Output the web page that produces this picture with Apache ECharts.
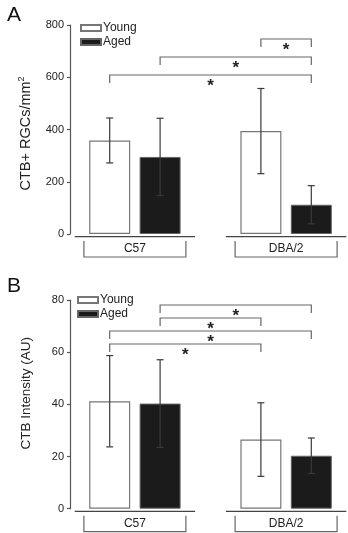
<!DOCTYPE html>
<html>
<head>
<meta charset="utf-8">
<script src="https://cdn.jsdelivr.net/npm/echarts@6/dist/echarts.min.js"></script>
<style>
  html, body { margin: 0; padding: 0; background: #fff; }
  #chart { width: 348px; height: 533px; }
</style>
</head>
<body>
<div id="chart"></div>
<script>
// groups and values
const groups = ['C57', 'DBA/2']
const seriesNames = ['Young', 'Aged']

// panel A: CTB+ RGCs/mm2
const countYoung = [358, 394]
const countYoungSd = [86, 163]
const countAged = [295, 112]
const countAgedSd = [148, 73]
const countTicks = [0, 200, 400, 600, 800]

// panel B: CTB intensity
const intYoung = [41.2, 26.5]
const intYoungSd = [17.5, 14.1]
const intAged = [40.3, 20.3]
const intAgedSd = [16.8, 6.8]
const intTicks = [0, 20, 40, 60, 80]

// significance pairs, bar index 0..3 = C57 young, C57 aged, DBA young, DBA aged (top to bottom)
const sigA = [[2, 3], [1, 3], [0, 3]]
const sigB = [[1, 3], [1, 2], [0, 3], [0, 2]]

const FONT = '"Liberation Sans", Arial, sans-serif'
const LINE = '#666'

// each group takes 2 slots plus a blank slot between groups
const slots = ['', '', '', '', '']
const barSlot = b => (b < 2 ? b : b + 1)
function slotData(vals, off) {
  const d = slots.map(() => '-')
  vals.forEach((v, g) => { d[g * 3 + off] = v })
  return d
}

const chart = echarts.init(document.getElementById('chart'))

function panelSeries(idx, young, youngSd, aged, agedSd, sig, sigTop, sigStep) {
  const ax = { xAxisIndex: idx, yAxisIndex: idx }
  const errData = []
  groups.forEach((g, i) => {
    errData.push([i * 3, young[i], youngSd[i]])
    errData.push([i * 3 + 1, aged[i], agedSd[i]])
  })
  return [
    {
      name: 'Young', type: 'bar', ...ax,
      data: slotData(young, 0),
      barWidth: 41, barGap: '-100%',
      itemStyle: { color: '#fff', borderColor: '#777', borderWidth: 1.2 }
    },
    {
      name: 'Aged', type: 'bar', ...ax,
      data: slotData(aged, 1),
      barWidth: 41, barGap: '-100%',
      itemStyle: { color: '#1b1b1b', borderColor: '#666', borderWidth: 1 }
    },
    {
      // error bars
      type: 'custom', ...ax, z: 5,
      data: errData,
      renderItem(params, api) {
        const x = api.coord([api.value(0), 0])[0]
        const m = api.value(1), s = api.value(2)
        const top = api.coord([api.value(0), m + s])[1]
        const bot = api.coord([api.value(0), m - s])[1]
        const st = { stroke: '#3a3a3a', lineWidth: 1.2 }
        return {
          type: 'group',
          children: [
            { type: 'line', shape: { x1: x, y1: top, x2: x, y2: bot }, style: st },
            { type: 'line', shape: { x1: x - 3.5, y1: top, x2: x + 3.5, y2: top }, style: st },
            { type: 'line', shape: { x1: x - 3.5, y1: bot, x2: x + 3.5, y2: bot }, style: st }
          ]
        }
      }
    },
    {
      // significance brackets
      type: 'custom', ...ax, clip: false, silent: true,
      data: sig.map((p, i) => [barSlot(p[0]), barSlot(p[1]), i]),
      renderItem(params, api) {
        const x0 = api.coord([api.value(0), 0])[0]
        const x1 = api.coord([api.value(1), 0])[0]
        const y = params.coordSys.y + sigTop + api.value(2) * sigStep
        return {
          type: 'group',
          children: [
            {
              type: 'polyline',
              shape: { points: [[x0, y + 8], [x0, y], [x1, y], [x1, y + 8]] },
              style: { stroke: LINE, lineWidth: 1.2, fill: null }
            },
            {
              type: 'text',
              style: {
                x: (x0 + x1) / 2, y: y + 2.5, text: '*',
                font: 'bold 17px ' + FONT, fill: '#222',
                textAlign: 'center', textVerticalAlign: 'top'
              }
            }
          ]
        }
      }
    },
    {
      // broken x axis segments and group brackets with labels
      type: 'custom', ...ax, clip: false, silent: true,
      data: groups.map((g, i) => [i * 3, i * 3 + 1]),
      renderItem(params, api) {
        const [xa, yb] = api.coord([api.value(0), 0])
        const xb = api.coord([api.value(1), 0])[0]
        const cx = (xa + xb) / 2
        return {
          type: 'group',
          children: [
            { type: 'line', shape: { x1: xa - 35, y1: yb + 2.7, x2: xb + 35, y2: yb + 2.7 }, style: { stroke: '#444', lineWidth: 1.2 } },
            {
              type: 'polyline',
              shape: { points: [[cx - 51, yb + 7], [cx - 51, yb + 23], [cx + 51, yb + 23], [cx + 51, yb + 7]] },
              style: { stroke: LINE, lineWidth: 1.2, fill: null }
            },
            {
              type: 'text',
              style: {
                x: cx, y: yb + 14.5, text: groups[params.dataIndex],
                font: '12px ' + FONT, fill: '#222',
                textAlign: 'center', textVerticalAlign: 'middle'
              }
            }
          ]
        }
      }
    }
  ]
}

function yAxisFor(idx, ticks, name, size, pad) {
  return {
    type: 'value', gridIndex: idx,
    min: ticks[0], max: ticks[ticks.length - 1], interval: ticks[1] - ticks[0],
    offset: 14.5,
    axisLine: { show: true, lineStyle: { color: '#555', width: 1.2 } },
    axisTick: { show: true, length: 3, lineStyle: { color: '#555', width: 1.2 } },
    axisLabel: { fontSize: 11, color: '#222', margin: 6, fontFamily: FONT },
    splitLine: { show: false },
    name: name, nameLocation: 'middle', nameGap: 35,
    nameTextStyle: {
      fontSize: size, color: '#222', fontFamily: FONT, lineHeight: 18, padding: pad,
      rich: { sup: { fontSize: 9, color: '#222', fontFamily: FONT, verticalAlign: 'top', lineHeight: 18 } }
    }
  }
}

function legendFor(left, top) {
  return {
    data: seriesNames, orient: 'vertical', left: left, top: top,
    itemWidth: 20, itemHeight: 6, itemGap: 2, icon: 'rect',
    selectedMode: false,
    textStyle: { fontSize: 12, color: '#222', fontFamily: FONT, padding: [0, 0, 0, -3] }
  }
}

const option = {
  animation: false,
  textStyle: { fontFamily: FONT },
  title: [
    { text: 'A', left: 2, top: 0, textStyle: { fontSize: 21, fontWeight: 'normal', color: '#111', fontFamily: FONT } },
    { text: 'B', left: 2, top: 271, textStyle: { fontSize: 21, fontWeight: 'normal', color: '#111', fontFamily: FONT } }
  ],
  legend: [legendFor(75, 17), legendFor(72, 289)],
  grid: [
    { left: 84.5, width: 252, top: 25, height: 209 },
    { left: 84.5, width: 252, top: 300, height: 208.7 }
  ],
  xAxis: [0, 1].map(i => ({ type: 'category', gridIndex: i, data: slots, show: false })),
  yAxis: [
    yAxisFor(0, countTicks, 'CTB+ RGCs/mm{sup|2}', 14.5, [0, 8, 0, 0]),
    yAxisFor(1, intTicks, 'CTB Intensity (AU)', 13.5, [0, 0, 0, 22])
  ],
  series: [
    ...panelSeries(0, countYoung, countYoungSd, countAged, countAgedSd, sigA, 14, 18),
    ...panelSeries(1, intYoung, intYoungSd, intAged, intAgedSd, sigB, 5, 13)
  ]
}

chart.setOption(option)
</script>
</body>
</html>
